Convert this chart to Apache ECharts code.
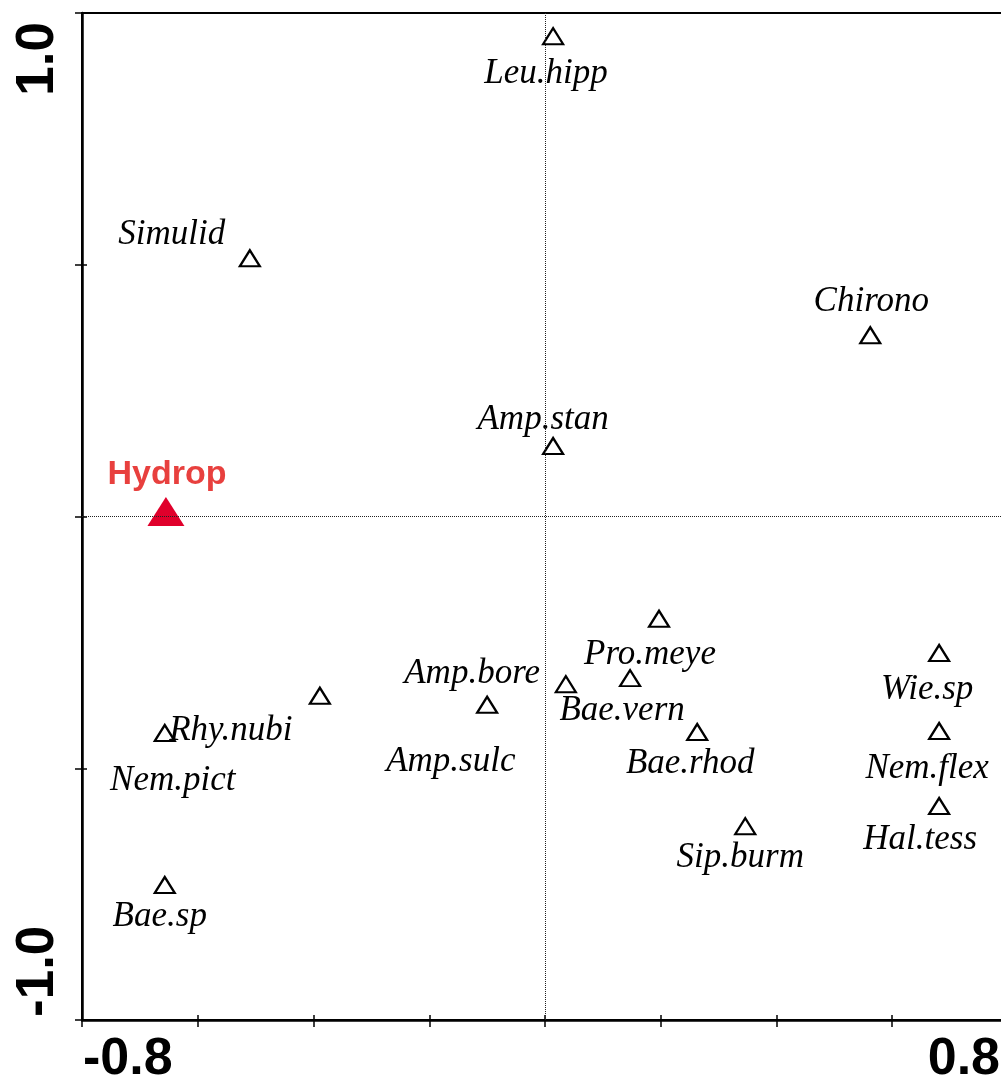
<!DOCTYPE html>
<html>
<head>
<meta charset="utf-8">
<title>Ordination diagram</title>
<script src="https://cdn.jsdelivr.net/npm/echarts@6/dist/echarts.min.js"></script>
<style>
  html, body { margin: 0; padding: 0; background: #fff; overflow: hidden; }
  #chart { width: 1009px; height: 1086px; }
</style>
</head>
<body>
<div id="chart"></div>
<script>
// Species scores on the first two ordination axes
const speciesNames = ['Leu.hipp', 'Simulid', 'Chirono', 'Amp.stan', 'Pro.meye', 'Wie.sp',
  'Amp.sulc', 'Bae.vern', 'Amp.bore', 'Rhy.nubi', 'Nem.pict', 'Bae.rhod',
  'Nem.flex', 'Hal.tess', 'Sip.burm', 'Bae.sp'];
const speciesAxis1 = [0.014, -0.510, 0.562, 0.014, 0.197, 0.681,
  0.036, 0.147, -0.100, -0.389, -0.657, 0.263,
  0.681, 0.681, 0.346, -0.657];
const speciesAxis2 = [0.954, 0.513, 0.360, 0.140, -0.203, -0.271,
  -0.333, -0.321, -0.374, -0.356, -0.430, -0.428,
  -0.426, -0.575, -0.615, -0.732];

// Environmental variable (nominal) centroid
const envNames = ['Hydrop'];
const envAxis1 = [-0.655];
const envAxis2 = [0.0];

// Axis extents and the tick values that carry a label
const xRange = [-0.8, 0.8];
const yRange = [-1.0, 1.0];
const xTickStep = 0.2;
const yTickStep = 0.5;
const xTickLabels = ['-0.8', '0.8'];
const yTickLabels = ['-1.0', '1.0'];

// Label placement around each symbol, in pixels [dx, dy]
const labelShift = {
  'Leu.hipp': [-7, 38], 'Simulid': [-78, -23], 'Chirono': [1, -33], 'Amp.stan': [-10, -26],
  'Pro.meye': [-9, 36], 'Wie.sp': [-12, 37], 'Amp.sulc': [-115, 78], 'Bae.vern': [-8, 33],
  'Amp.bore': [-15, -31], 'Rhy.nubi': [-89, 35], 'Nem.pict': [8, 48], 'Bae.rhod': [-7, 32],
  'Nem.flex': [-12, 38], 'Hal.tess': [-19, 34], 'Sip.burm': [-5, 32], 'Bae.sp': [-5, 32]
};
const envLabelShift = { 'Hydrop': [1, -37] };

const speciesData = speciesNames.map((n, i) => ({ name: n, value: [speciesAxis1[i], speciesAxis2[i]] }));
const envData = envNames.map((n, i) => ({ name: n, value: [envAxis1[i], envAxis2[i]] }));

// Only the end ticks carry a number; they are pulled inward like the original frame
function endLabel(list) {
  return function (v) {
    const s = v.toFixed(1);
    if (list.indexOf(s) < 0) return '';
    return v > 0 ? '{hi|' + s + '}' : '{lo|' + s + '}';
  };
}

const numFont = {
  fontFamily: 'Liberation Sans, Arial, sans-serif',
  fontWeight: 'bold',
  color: '#000'
};

const chart = echarts.init(document.getElementById('chart'), null, { renderer: 'canvas' });

chart.setOption({
  animation: false,
  backgroundColor: '#fff',
  grid: {
    left: 82, top: 13, right: 1, bottom: 66,
    show: true, borderColor: '#000', borderWidth: 2
  },
  xAxis: [
    {
      type: 'value', position: 'bottom', min: xRange[0], max: xRange[1], interval: xTickStep,
      axisLine: { onZero: false, lineStyle: { color: '#000', width: 2.5 } },
      axisTick: { inside: false, length: 7, lineStyle: { color: '#000', width: 1.5 } },
      splitLine: { show: false },
      axisLabel: Object.assign({
        formatter: endLabel(xTickLabels), margin: 14, fontSize: 52,
        alignMinLabel: 'left', alignMaxLabel: 'right', showMinLabel: true, showMaxLabel: true,
        rich: {
          lo: Object.assign({ fontSize: 52, padding: [0, 0, 0, 1] }, numFont),
          hi: Object.assign({ fontSize: 52, padding: [0, 8, 0, 0] }, numFont)
        }
      }, numFont)
    },
    {
      type: 'value', position: 'bottom', min: xRange[0], max: xRange[1], interval: xTickStep,
      axisLine: { show: false, onZero: false },
      axisTick: { inside: true, length: 5, lineStyle: { color: '#000', width: 1.5 } },
      splitLine: { show: false },
      axisLabel: { show: false }
    }
  ],
  yAxis: [
    {
      type: 'value', position: 'left', min: yRange[0], max: yRange[1], interval: yTickStep,
      axisLine: { onZero: false, lineStyle: { color: '#000', width: 2.5 } },
      axisTick: { inside: false, length: 7, lineStyle: { color: '#000', width: 1.5 } },
      splitLine: { show: false },
      axisLabel: Object.assign({
        formatter: endLabel(yTickLabels), rotate: 90, margin: 17, fontSize: 53,
        alignMinLabel: 'left', alignMaxLabel: 'right', showMinLabel: true, showMaxLabel: true,
        rich: {
          lo: Object.assign({ fontSize: 53, padding: [0, 0, 0, 3] }, numFont),
          hi: Object.assign({ fontSize: 53, padding: [0, 9, 0, 0] }, numFont)
        }
      }, numFont)
    },
    {
      type: 'value', position: 'left', min: yRange[0], max: yRange[1], interval: yTickStep,
      axisLine: { show: false, onZero: false },
      axisTick: { inside: true, length: 5, lineStyle: { color: '#000', width: 1.5 } },
      splitLine: { show: false },
      axisLabel: { show: false }
    }
  ],
  series: [
    {
      type: 'scatter',
      name: 'species',
      xAxisIndex: 0, yAxisIndex: 0,
      data: speciesData,
      symbol: 'triangle',
      symbolSize: [20, 16],
      itemStyle: { color: 'rgba(0,0,0,0)', borderColor: '#000', borderWidth: 2.2, opacity: 1 },
      label: {
        show: true,
        formatter: '{b}',
        position: 'inside',
        align: 'center',
        verticalAlign: 'middle',
        fontFamily: 'Liberation Serif, Times New Roman, serif',
        fontStyle: 'italic',
        fontSize: 35,
        color: '#000'
      },
      labelLayout: function (p) {
        const s = labelShift[speciesNames[p.dataIndex]];
        return { dx: s[0], dy: s[1], hideOverlap: false };
      },
      emphasis: { disabled: true },
      markLine: {
        silent: true,
        symbol: ['none', 'none'],
        label: { show: false },
        lineStyle: { type: [1, 1], color: '#222', width: 1 },
        emphasis: { disabled: true },
        data: [{ xAxis: 0 }, { yAxis: 0 }]
      },
      z: 3
    },
    {
      type: 'scatter',
      name: 'environment',
      xAxisIndex: 0, yAxisIndex: 0,
      data: envData,
      symbol: 'triangle',
      symbolSize: [37, 29],
      symbolOffset: [0, -5],
      itemStyle: { color: '#e0002b', opacity: 1 },
      label: {
        show: true,
        formatter: '{b}',
        position: 'inside',
        align: 'center',
        verticalAlign: 'middle',
        fontFamily: 'Liberation Sans, Arial, sans-serif',
        fontWeight: 'bold',
        fontSize: 34,
        color: '#e8403e',
        opacity: 1
      },
      labelLayout: function (p) {
        const s = envLabelShift[envNames[p.dataIndex]];
        return { dx: s[0], dy: s[1] };
      },
      emphasis: { disabled: true },
      z: 4
    }
  ]
});
</script>
</body>
</html>
